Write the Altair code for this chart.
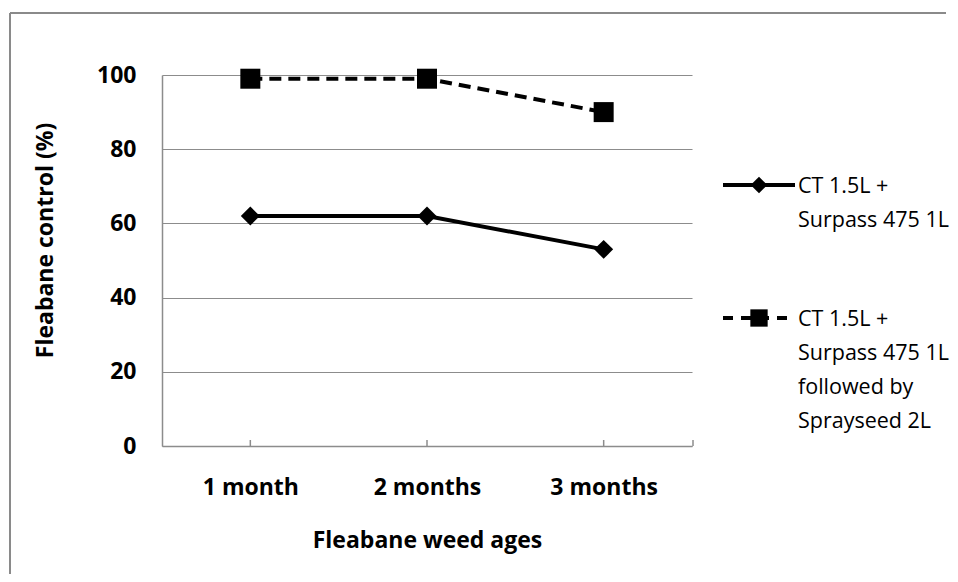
import altair as alt
import pandas as pd

ages = ["1 month", "2 months", "3 months"]
series_labels = [
    "CT 1.5L +\nSurpass 475 1L",
    "CT  1.5L +\nSurpass 475 1L\nfollowed by\nSprayseed 2L",
]
ct_surpass = [62, 62, 53]
ct_surpass_sprayseed = [99, 99, 90]
y_ticks = [0, 20, 40, 60, 80, 100]

W, H = 530, 371
FONT = "Open Sans"
GRAY = "#8c8c8c"
FS = 23
LFS = 21.5

df = pd.DataFrame({
    "age": ages * 2,
    "value": ct_surpass + ct_surpass_sprayseed,
    "series": [series_labels[0]] * 3 + [series_labels[1]] * 3,
})
ages_df = pd.DataFrame({"age": ages})
one = pd.DataFrame({"k": [0]})

xscale = alt.Scale(type="point", domain=ages, padding=0.5)
yscale = alt.Scale(domain=[0, 100], nice=False)

x_enc = alt.X(
    "age:N", scale=xscale, sort=ages,
    axis=alt.Axis(title="Fleabane weed ages", ticks=False, grid=False,
                  domainColor=GRAY, domainWidth=1.5, labelPadding=30,
                  labelAngle=0, titlePadding=30),
)
y_enc = alt.Y(
    "value:Q", scale=yscale,
    axis=alt.Axis(title="Fleabane control (%)", values=y_ticks, ticks=False,
                  grid=True, gridColor=GRAY, gridWidth=1.2,
                  domainColor=GRAY, domainWidth=1.5, labelPadding=26,
                  titleAngle=270, titleAlign="center", titleBaseline="middle",
                  titleX=-117, titleY=165),
)

s0 = df[df["series"] == series_labels[0]]
s1 = df[df["series"] == series_labels[1]]

line0 = alt.Chart(s0).mark_line(color="black", strokeWidth=4).encode(x=x_enc, y=y_enc)
pts0 = alt.Chart(s0).mark_point(shape="diamond", filled=True, color="black",
                                 size=360, opacity=1).encode(x=x_enc, y=y_enc)
line1 = alt.Chart(s1).mark_line(color="black", strokeWidth=4,
                                 strokeDash=[12, 7]).encode(x=x_enc, y=y_enc)
pts1 = alt.Chart(s1).mark_point(shape="square", filled=True, color="black",
                                 size=400, opacity=1).encode(x=x_enc, y=y_enc)

ticks = alt.Chart(ages_df).mark_rule(color=GRAY, strokeWidth=1.5).encode(
    x=x_enc, y=alt.value(H), y2=alt.value(H - 6),
)
end_tick = alt.Chart(one).mark_rule(color=GRAY, strokeWidth=1.5).encode(
    x=alt.value(W + 1), y=alt.value(H), y2=alt.value(H - 6),
)

border_top = alt.Chart(one).mark_rule(color="#8a8a8a", strokeWidth=2).encode(
    x=alt.value(-152), x2=alt.value(784), y=alt.value(-62))
border_left = alt.Chart(one).mark_rule(color="#8a8a8a", strokeWidth=2).encode(
    x=alt.value(-152), y=alt.value(-62), y2=alt.value(499))

# legend (decoration)
leg_y = [110, 243]
LX0, LX1, LM, LT = 561, 633, 597, 636
leg_rule0 = alt.Chart(one).mark_rule(color="black", strokeWidth=4).encode(
    x=alt.value(LX0), x2=alt.value(LX1), y=alt.value(leg_y[0]))
leg_pt0 = alt.Chart(one).mark_point(shape="diamond", filled=True, color="black",
                                    size=280, opacity=1).encode(
    x=alt.value(LM), y=alt.value(leg_y[0]))
leg_rule1 = alt.Chart(one).mark_rule(color="black", strokeWidth=4, strokeDash=[10, 8]).encode(
    x=alt.value(LX0), x2=alt.value(LX1), y=alt.value(leg_y[1]))
leg_pt1 = alt.Chart(one).mark_point(shape="square", filled=True, color="black",
                                    size=300, opacity=1).encode(
    x=alt.value(LM), y=alt.value(leg_y[1]))
leg_txt0 = alt.Chart(one).mark_text(align="left", baseline="top", lineBreak="\n",
                                    lineHeight=34, font=FONT, fontSize=LFS,
                                    color="black").encode(
    x=alt.value(LT), y=alt.value(leg_y[0] - 9), text=alt.value(series_labels[0]))
leg_txt1 = alt.Chart(one).mark_text(align="left", baseline="top", lineBreak="\n",
                                    lineHeight=34, font=FONT, fontSize=LFS,
                                    color="black").encode(
    x=alt.value(LT), y=alt.value(leg_y[1] - 9), text=alt.value(series_labels[1]))

chart = alt.layer(
    border_top, border_left, ticks, end_tick, line0, line1, pts0, pts1,
    leg_rule0, leg_pt0, leg_rule1, leg_pt1, leg_txt0, leg_txt1,
).properties(
    width=W, height=H,
    autosize=alt.AutoSizeParams(type="none"),
    padding={"left": 154, "top": 67, "right": 258, "bottom": 128},
).configure_view(stroke=None).configure_axis(
    labelFont=FONT, labelFontSize=FS, labelFontWeight="bold", labelColor="black",
    titleFont=FONT, titleFontSize=FS, titleFontWeight="bold", titleColor="black",
)

chart.save("out.html", embed_options={"renderer": "svg", "actions": False})
